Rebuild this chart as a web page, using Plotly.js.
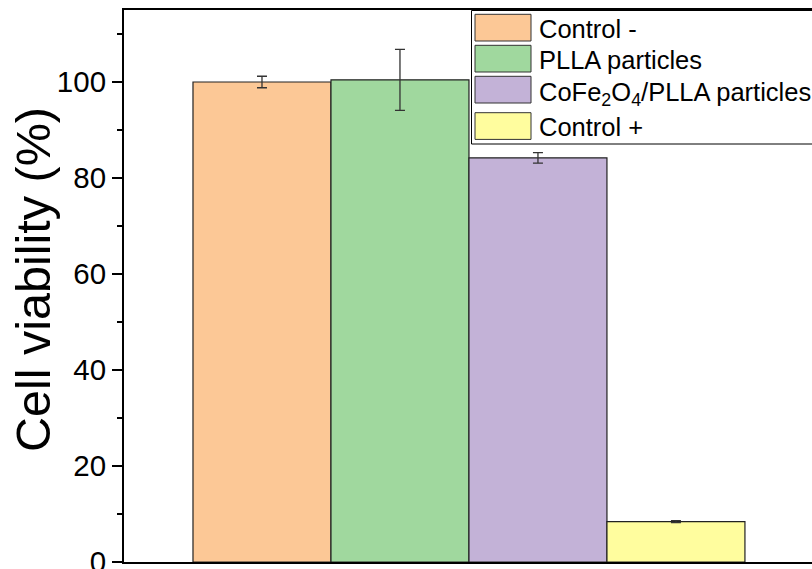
<!DOCTYPE html>
<html><head><meta charset="utf-8">
<script src="https://cdn.plot.ly/plotly-3.0.1.min.js"></script>
<style>html,body{margin:0;padding:0;background:#fff}</style>
</head><body><div id="chart" style="width:812px;height:569px"></div>
<script>
const groups = ["Control -", "PLLA particles", "CoFe<sub>2</sub>O<sub>4</sub>/PLLA particles", "Control +"];
const viability = [100.0, 100.45, 84.2, 8.4];
const errors = [1.2, 6.35, 1.1, 0.2];
const colors = ["#FCC896", "#A0D89E", "#C3B2D7", "#FFFD9E"];
const yTicks = [0, 20, 40, 60, 80, 100];
const yTitle = "Cell viability (%)";

const FONT = "Liberation Sans, Arial, Helvetica, sans-serif";
// plot area in pixels
const L = 124, R = 812, T = 10, B = 562;
const px2x = p => (p - L) / (R - L);
const px2y = p => (B - p) / (B - T);

const traces = groups.map((g, i) => ({
  type: 'bar', x: [i], y: [viability[i]], width: 1, name: g,
  marker: {color: colors[i], line: {color: '#222', width: 1.2}},
  error_y: {type: 'data', array: [errors[i]], visible: true, color: '#333', thickness: 1.3, width: 5},
  showlegend: false, hoverinfo: 'skip'
}));

const shapes = [{
  type: 'rect', xref: 'paper', yref: 'paper',
  x0: px2x(471.5), x1: px2x(840), y0: px2y(144), y1: px2y(10.5),
  line: {color: '#000', width: 1}, fillcolor: '#fff', layer: 'above'
}];
const annotations = [];
const swTop = [14.3, 45.3, 76.3, 112.7];
const swH = 26.7;
const textDy = [0, 0, 3, 0];
groups.forEach((g, i) => {
  shapes.push({
    type: 'rect', xref: 'paper', yref: 'paper',
    x0: px2x(475), x1: px2x(531), y0: px2y(swTop[i] + swH), y1: px2y(swTop[i]),
    line: {color: '#333', width: 1}, fillcolor: colors[i], layer: 'above'
  });
  annotations.push({
    xref: 'paper', yref: 'paper', x: px2x(537), y: px2y(swTop[i] + swH / 2 + 1 + textDy[i]),
    xanchor: 'left', yanchor: 'middle', showarrow: false, text: g,
    font: {family: FONT, size: 25.5, color: '#000'}
  });
});
annotations.push({
  xref: 'paper', yref: 'paper', x: px2x(33), y: px2y(280),
  xanchor: 'center', yanchor: 'middle', textangle: -90, showarrow: false, text: yTitle,
  font: {family: FONT, size: 48.5, color: '#000'}
});

const layout = {
  width: 812, height: 569,
  margin: {l: L, r: 812 - R, t: T, b: 569 - B, pad: 0},
  paper_bgcolor: '#fff', plot_bgcolor: '#fff',
  barmode: 'overlay', showlegend: false,
  font: {family: FONT, color: '#000'},
  xaxis: {
    range: [-1, 3.986], showline: true, linecolor: '#000', linewidth: 2, mirror: true,
    ticks: '', showticklabels: false, showgrid: false, zeroline: false, fixedrange: true
  },
  yaxis: {
    range: [0, 115], showline: true, linecolor: '#000', linewidth: 2,
    ticks: 'outside', ticklen: 10, tickwidth: 2, tickcolor: '#000',
    tickvals: yTicks, ticktext: yTicks.map(String), ticklabeloverflow: 'allow',
    tickfont: {family: FONT, size: 29.5, color: '#000'},
    minor: {dtick: 10, tick0: 0, ticks: 'outside', ticklen: 5, tickwidth: 2, tickcolor: '#000', showgrid: false},
    showgrid: false, zeroline: false, fixedrange: true
  },
  shapes: shapes, annotations: annotations
};

Plotly.newPlot('chart', traces, layout, {displayModeBar: false, staticPlot: true});
</script></body></html>
